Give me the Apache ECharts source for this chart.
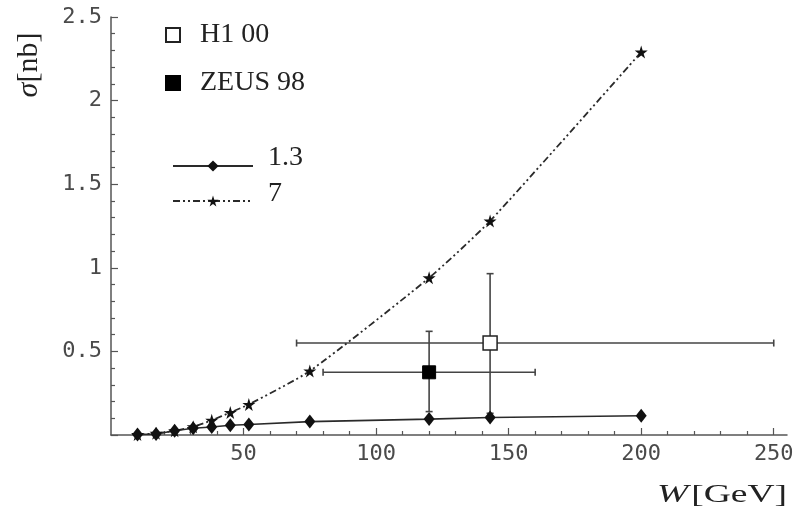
<!DOCTYPE html>
<html>
<head>
<meta charset="utf-8">
<script src="https://cdn.jsdelivr.net/npm/echarts@6/dist/echarts.min.js"></script>
<style>
  html, body { margin: 0; padding: 0; background: #fff; }
  #chart { width: 799px; height: 518px; }
</style>
</head>
<body>
<div id="chart"></div>
<script>
// Cross section sigma versus photon-proton energy W
const energies     = [10, 17, 24, 31, 38, 45, 52, 75, 120, 143, 200];
const sigmaCurve13 = [0.003, 0.006, 0.025, 0.04, 0.048, 0.058, 0.063, 0.08, 0.095, 0.105, 0.115];
const sigmaCurve7  = [0.003, 0.01, 0.025, 0.05, 0.088, 0.135, 0.183, 0.383, 0.94, 1.28, 2.29];

// measurements: [W, sigma, W low, W high, sigma low, sigma high]
const h1Point   = [143, 0.55, 70, 250, 0.13, 0.965];
const zeusPoint = [120, 0.375, 80, 160, 0.14, 0.62];

const xTickLabels = [50, 100, 150, 200, 250];
const yTickLabels = [0.5, 1, 1.5, 2, 2.5];

const xMinorTicks = [];
for (let v = 10; v <= 250; v += 10) if (v % 50 !== 0) xMinorTicks.push(v);

const axisGray = '#555';
const inkColor = '#111';
const tickFont = { fontFamily: 'DejaVu Sans Mono', fontSize: 22, color: '#4a4a4a' };
const legendFont = { fontFamily: 'Liberation Serif', fontSize: 28, color: '#222', lineHeight: 30 };

// legend label raised above its line sample: the label sits at the top of a taller line box
const raisedLabel = boxHeight => ({
  ...legendFont,
  padding: [0, 0, 0, 10],
  rich: {
    t: { fontFamily: 'Liberation Serif', fontSize: 28, color: '#222', lineHeight: 30, verticalAlign: 'top' },
    s: { fontSize: 10, lineHeight: boxHeight, width: 0 }
  }
});

const starPath = 'path://M50,0 L61,35 L98,35 L68,57 L79,91 L50,70 L21,91 L32,57 L2,35 L39,35 Z';

const toPairs = (xs, ys) => xs.map((x, i) => [x, ys[i]]);

const chart = echarts.init(document.getElementById('chart'), null, { renderer: 'canvas' });

chart.setOption({
  animation: false,
  backgroundColor: '#fff',
  grid: { left: 111, right: 12, top: 17, bottom: 83, containLabel: false },
  xAxis: [
    {
      type: 'value', min: 0, max: 255, position: 'bottom',
      axisLine: { show: true, lineStyle: { color: axisGray, width: 1.5 } },
      axisTick: { show: true, inside: true, length: 4, customValues: xMinorTicks,
                  lineStyle: { color: axisGray, width: 1.2 } },
      axisLabel: { customValues: xTickLabels, margin: 8, ...tickFont },
      splitLine: { show: false }
    },
    {
      type: 'value', min: 0, max: 255, position: 'bottom',
      axisLine: { show: false },
      axisTick: { show: true, inside: true, length: 7, customValues: xTickLabels,
                  lineStyle: { color: axisGray, width: 1.2 } },
      axisLabel: { show: false },
      splitLine: { show: false }
    }
  ],
  yAxis: {
    type: 'value', min: 0, max: 2.5, interval: 0.5,
    axisLine: { show: true, lineStyle: { color: axisGray, width: 1.5 } },
    axisTick: { show: true, inside: true, length: 7, lineStyle: { color: axisGray, width: 1.2 } },
    minorTick: { show: true, splitNumber: 5, length: 4, lineStyle: { color: axisGray, width: 1.2 } },
    axisLabel: {
      margin: 9, ...tickFont,
      formatter: v => (yTickLabels.includes(v) ? String(v) : '')
    },
    splitLine: { show: false }
  },
  legend: [
    { data: ['H1 00'], left: 160, top: 15, itemWidth: 14, itemHeight: 14,
      textStyle: { ...legendFont, padding: [0, 0, 0, 15] } },
    { data: ['ZEUS 98'], left: 160, top: 63, itemWidth: 14, itemHeight: 14,
      textStyle: { ...legendFont, padding: [0, 0, 0, 15] } },
    { data: ['1.3'], left: 167, top: 139, itemWidth: 80, itemHeight: 14,
      formatter: name => '{t|' + name + '}{s| }', textStyle: raisedLabel(44) },
    { data: ['7'], left: 167, top: 175, itemWidth: 80, itemHeight: 14,
      formatter: name => '{t|' + name + '}{s| }', textStyle: raisedLabel(42) }
  ],
  series: [
    {
      name: 'errors', type: 'custom', xAxisIndex: 0, yAxisIndex: 0, z: 2,
      data: [h1Point, zeusPoint],
      encode: { x: [0, 2, 3], y: [1, 4, 5] },
      renderItem: (params, api) => {
        const left = api.coord([api.value(2), api.value(1)]);
        const right = api.coord([api.value(3), api.value(1)]);
        const low = api.coord([api.value(0), api.value(4)]);
        const high = api.coord([api.value(0), api.value(5)]);
        const cap = 3.5;
        const style = { stroke: '#444', lineWidth: 1.6 };
        const seg = (x1, y1, x2, y2) => ({ type: 'line', shape: { x1, y1, x2, y2 }, style });
        return {
          type: 'group',
          children: [
            seg(left[0], left[1], right[0], right[1]),
            seg(left[0], left[1] - cap, left[0], left[1] + cap),
            seg(right[0], right[1] - cap, right[0], right[1] + cap),
            seg(low[0], low[1], high[0], high[1]),
            seg(low[0] - cap, low[1], low[0] + cap, low[1]),
            seg(high[0] - cap, high[1], high[0] + cap, high[1])
          ]
        };
      }
    },
    {
      name: '1.3', type: 'line', z: 3,
      data: toPairs(energies, sigmaCurve13),
      symbol: 'diamond', symbolSize: [11, 14], showAllSymbol: true,
      itemStyle: { color: inkColor, opacity: 1 },
      lineStyle: { color: '#2a2a2a', width: 1.6 }
    },
    {
      name: '7', type: 'line', z: 3,
      data: toPairs(energies, sigmaCurve7),
      smooth: 0.2,
      symbol: starPath, symbolSize: 13, showAllSymbol: true,
      itemStyle: { color: inkColor, opacity: 1 },
      lineStyle: { color: '#2a2a2a', width: 1.8, type: [7, 3, 2, 3, 2, 3] }
    },
    {
      name: 'H1 00', type: 'scatter', z: 4,
      data: [[h1Point[0], h1Point[1]]],
      symbol: 'rect', symbolSize: 14,
      itemStyle: { color: '#fff', borderColor: '#222', borderWidth: 1.5, opacity: 1 }
    },
    {
      name: 'ZEUS 98', type: 'scatter', z: 4,
      data: [[zeusPoint[0], zeusPoint[1]]],
      symbol: 'rect', symbolSize: 13,
      itemStyle: { color: '#000', borderColor: '#000', borderWidth: 1, opacity: 1 }
    }
  ],
  graphic: [
    {
      type: 'text', x: 29, y: 65, rotation: Math.PI / 2,
      style: {
        text: '{s|σ}{n|[nb]}',
        align: 'center', verticalAlign: 'middle',
        rich: {
          s: { fontFamily: 'Liberation Serif', fontStyle: 'italic', fontSize: 30, fill: '#222' },
          n: { fontFamily: 'Liberation Serif', fontSize: 30, fill: '#222' }
        }
      }
    },
    {
      type: 'text', x: 722, y: 495, scaleX: 1.5,
      style: {
        text: '{w|W}{g|[GeV]}',
        align: 'center', verticalAlign: 'middle',
        rich: {
          w: { fontFamily: 'Liberation Serif', fontStyle: 'italic', fontSize: 25, fill: '#222', padding: [0, 2, 0, 0] },
          g: { fontFamily: 'Liberation Serif', fontSize: 25, fill: '#222' }
        }
      }
    }
  ]
});
</script>
</body>
</html>
